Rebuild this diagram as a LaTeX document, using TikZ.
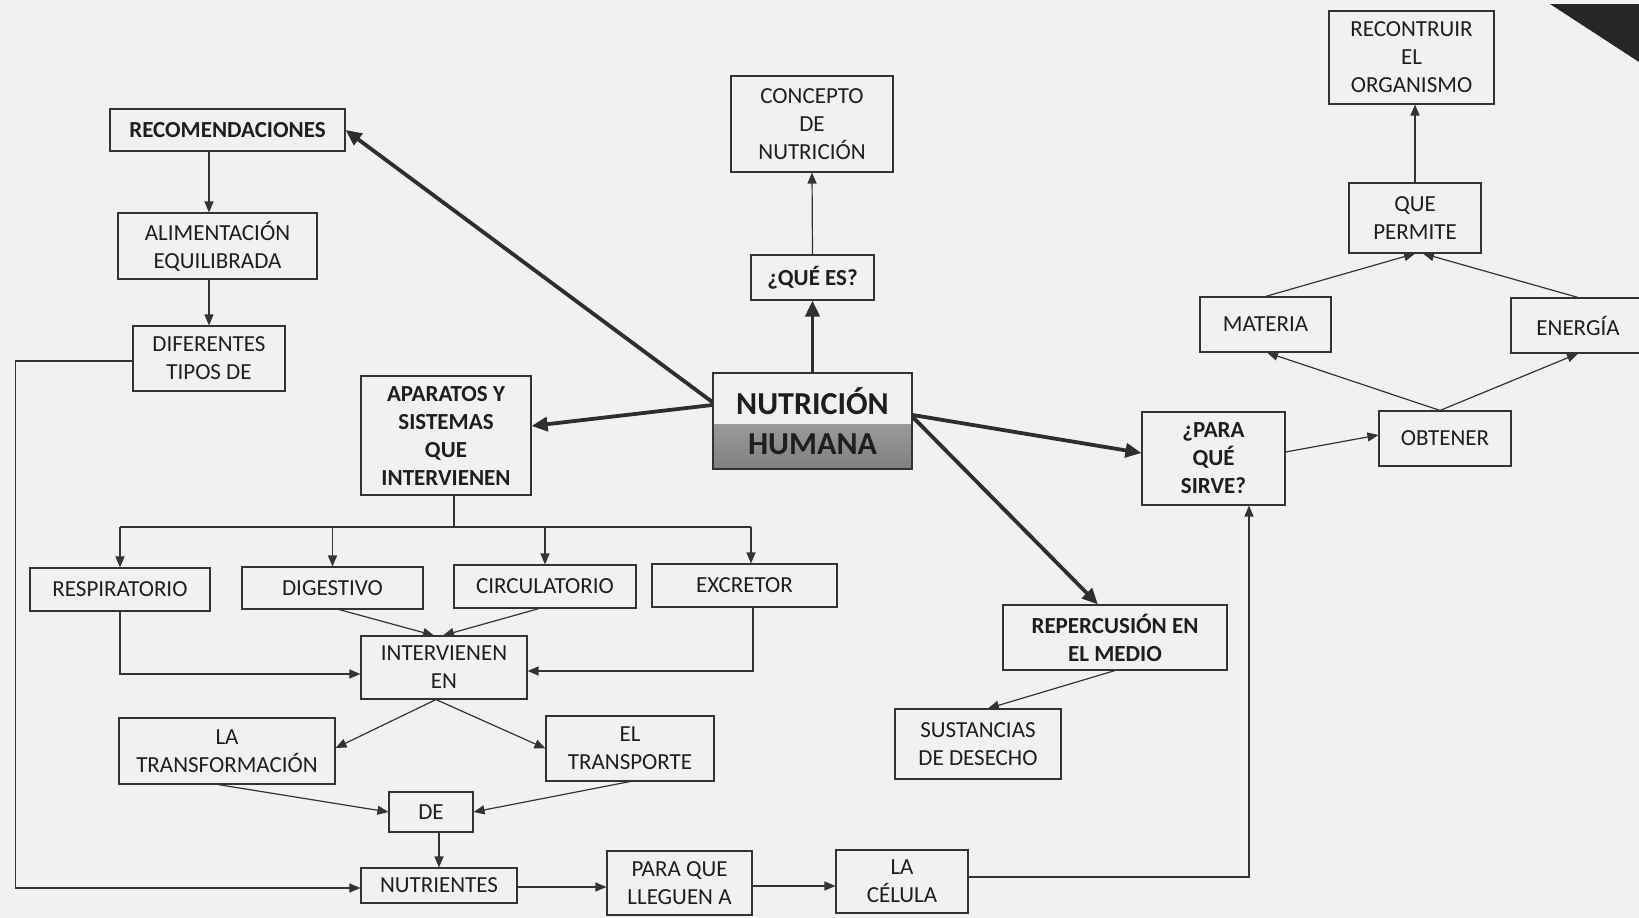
\documentclass[tikz,border=0pt]{standalone}
\usepackage{fontspec}
\setmainfont{Carlito}
\usetikzlibrary{arrows.meta,calc}
\definecolor{bgc}{HTML}{F1F1F2}
\definecolor{linec}{HTML}{333333}
\definecolor{textc}{HTML}{1E1E1E}
\tikzset{
  box/.style={draw=linec, line width=1.1pt, inner sep=3pt, align=center, text=textc,
    font=\fontsize{23}{28}\selectfont},
  bbox/.style={box, font=\fontsize{23}{28}\selectfont\bfseries},
  nhbox/.style={box, line width=1.4pt, font=\fontsize{32}{40}\selectfont\bfseries,
    path picture={\shade[top color=black!28, bottom color=black!50]
      ([yshift=-3pt]path picture bounding box.west) rectangle (path picture bounding box.south east);}},
  conn/.style={draw=linec, line width=1.2pt, -{Triangle[length=11pt,width=9pt]}},
  plainline/.style={draw=linec, line width=1.2pt},
  bigarrow/.style={draw=black!82, line width=3.8pt, -{Triangle[length=16pt,width=14pt]}},
}
\begin{document}
\begin{tikzpicture}[x=1pt,y=-1pt]
\useasboundingbox (0,0) rectangle (1639,918);
\fill[bgc] (0,0) rectangle (1639,918);
% scan artefact, top right corner
\fill[black!85] (1550,4) -- (1639,4) -- (1639,62) -- cycle;

% left column
\node[bbox, minimum width=235pt, minimum height=42pt] (reco) at (227.5,130) {RECOMENDACIONES};
\node[box, minimum width=199pt, minimum height=66pt] (alim) at (217.5,246) {ALIMENTACIÓN\\EQUILIBRADA};
\node[box, minimum width=152pt, minimum height=65pt] (dif) at (209,358.5) {DIFERENTES\\TIPOS DE};
\node[bbox, minimum width=170pt, minimum height=119pt] (apar) at (446,435.5) {APARATOS Y\\SISTEMAS\\QUE\\INTERVIENEN};

% centre
\node[box, minimum width=162pt, minimum height=96pt] (conc) at (812,124) {CONCEPTO\\DE\\NUTRICIÓN};
\node[bbox, minimum width=123pt, minimum height=45pt] (qes) at (812.5,277.5) {¿QUÉ ES?};
\node[nhbox, minimum width=199pt, minimum height=96pt] (nh) at (812.5,421) {NUTRICIÓN\\HUMANA};

% right part
\node[box, minimum width=165pt, minimum height=93pt] (recon) at (1411.5,57.5) {RECONTRUIR\\EL\\ORGANISMO};
\node[box, minimum width=132pt, minimum height=70pt] (qp) at (1415,218) {QUE\\PERMITE};
\node[box, minimum width=131pt, minimum height=55pt] (mat) at (1265.5,324.5) {MATERIA};
\node[box, minimum width=134pt, minimum height=55pt] (ene) at (1578,325.5) {ENERGÍA};
\node[box, minimum width=132pt, minimum height=55pt] (obt) at (1445,438.5) {OBTENER};
\node[bbox, minimum width=143pt, minimum height=93pt] (para) at (1213.5,458.5) {¿PARA\\QUÉ\\SIRVE?};
\node[bbox, minimum width=224pt, minimum height=65pt] (repe) at (1115,637.5) {REPERCUSIÓN EN\\EL MEDIO};
\node[box, minimum width=166pt, minimum height=70pt] (sust) at (978,744) {SUSTANCIAS\\DE DESECHO};

% systems
\node[box, minimum width=180pt, minimum height=43pt] (resp) at (120,589.5) {RESPIRATORIO};
\node[box, minimum width=181pt, minimum height=42pt] (dig) at (332.5,588) {DIGESTIVO};
\node[box, minimum width=182pt, minimum height=43pt] (circ) at (545,586.5) {CIRCULATORIO};
\node[box, minimum width=185pt, minimum height=43pt] (excr) at (744.5,585.5) {EXCRETOR};
\node[box, minimum width=166pt, minimum height=63pt] (inter) at (444,667.5) {INTERVIENEN\\EN};
\node[box, minimum width=216pt, minimum height=66pt] (latr) at (227,751) {LA\\TRANSFORMACIÓN};
\node[box, minimum width=168pt, minimum height=65pt] (eltr) at (630,748.5) {EL\\TRANSPORTE};
\node[box, minimum width=84pt, minimum height=40pt] (de) at (431,812) {DE};
\node[box, minimum width=156pt, minimum height=35pt] (nut) at (439,885.5) {NUTRIENTES};
\node[box, minimum width=145pt, minimum height=64pt] (lleg) at (679.5,883) {PARA QUE\\LLEGUEN A};
\node[box, minimum width=132pt, minimum height=63pt] (cel) at (902,881.5) {LA\\CÉLULA};

% helper coordinates
\coordinate (br) at (454,527);
\coordinate (exn) at ([xshift=6.5pt]excr.north);
\coordinate (apb) at ([xshift=8pt]apar.south);

% thick arrows from the centre
\draw[bigarrow] (nh.north) -- (qes.south);
\draw[bigarrow] ([yshift=19pt]nh.west) -- (reco.east);
\draw[bigarrow] ([yshift=16pt]nh.west) -- ([yshift=9.5pt]apar.east);
\draw[bigarrow] ([yshift=6pt]nh.east) -- ([yshift=5.5pt]para.west);
\draw[bigarrow] ([yshift=4pt]nh.east) -- ([xshift=-17pt]repe.north);

% thin connectors
\draw[conn] (qes.north) -- (conc.south);
\draw[conn] (reco.south -| dif.north) -- (alim.north -| dif.north);
\draw[conn] (alim.south -| dif.north) -- (dif.north);
\draw[conn] ([yshift=-2.5pt]dif.west) -- ++(-117,0) |- ([yshift=-2.5pt]nut.west);

\draw[plainline] (apb) -- (apb |- br);
\draw[plainline] (resp.north |- br) -- (exn |- br);
\draw[conn] (resp.north |- br) -- (resp.north);
\draw[conn] (dig.north |- br) -- (dig.north);
\draw[conn] (circ.north |- br) -- (circ.north);
\draw[conn] (exn |- br) -- (exn);

\draw[conn] (resp.south) |- ([yshift=-6.5pt]inter.west);
\draw[conn] ([xshift=8.5pt]excr.south) |- ([yshift=-3.5pt]inter.east);
\draw[conn] ([xshift=6.5pt]dig.south) -- ([xshift=-10pt]inter.north);
\draw[conn] ([xshift=-6pt]circ.south) -- ([xshift=-1pt]inter.north);
\draw[conn] ([xshift=-8pt]inter.south) -- ([yshift=3pt]latr.east);
\draw[conn] ([xshift=-8pt]inter.south) -- (eltr.west);
\draw[conn] ([xshift=-9pt]latr.south) -- (de.west);
\draw[conn] (eltr.south) -- (de.east);
\draw[conn] (de.south -| nut.north) -- (nut.north);
\draw[conn] ([yshift=-1.5pt]nut.east) -- ([yshift=-1.5pt]nut.east -| lleg.west);
\draw[conn] ([yshift=-3pt]lleg.east) -- ([yshift=-3pt]lleg.east -| cel.west);
\draw[conn] ([yshift=4.5pt]cel.east) -| ([xshift=35.5pt]para.south);

\draw[conn] (repe.south) -- ([xshift=10pt]sust.north);
\draw[conn] ([yshift=6.5pt]para.east) -- ([yshift=3.5pt]obt.west);
\draw[conn] ([xshift=-5pt]obt.north) -- ([xshift=1.5pt]mat.south);
\draw[conn] ([xshift=-5pt]obt.north) -- (ene.south);
\draw[conn] (mat.north) -- (qp.south);
\draw[conn] (ene.north) -- ([xshift=8pt]qp.south);
\draw[conn] (qp.north) -- (qp.north |- recon.south);
\end{tikzpicture}
\end{document}
